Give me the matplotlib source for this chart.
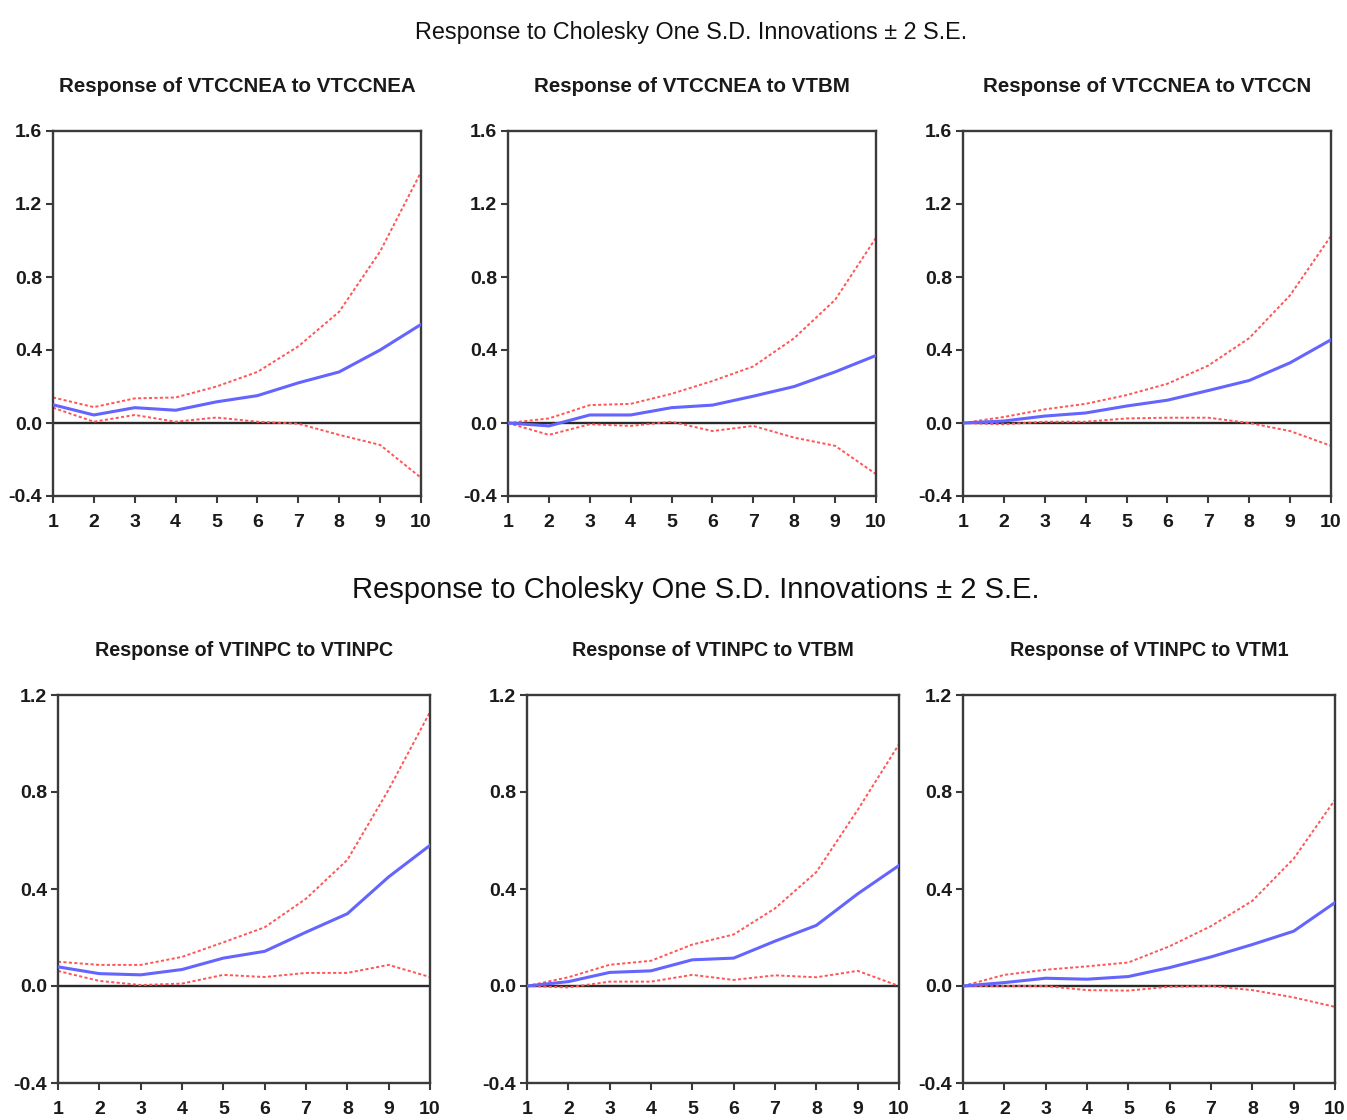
import matplotlib.pyplot as plt
from matplotlib import font_manager

steps = list(range(1, 11))

# Response of VTCCNEA (top block)
vtccnea_vtccnea = [0.10, 0.044, 0.084, 0.07, 0.116, 0.15, 0.22, 0.28, 0.40, 0.54]
vtccnea_vtccnea_hi = [0.14, 0.087, 0.135, 0.14, 0.20, 0.28, 0.42, 0.61, 0.94, 1.375]
vtccnea_vtccnea_lo = [0.084, 0.007, 0.044, 0.007, 0.03, 0.007, -0.004, -0.065, -0.12, -0.30]

vtccnea_vtbm = [0.0, -0.016, 0.044, 0.044, 0.084, 0.098, 0.147, 0.20, 0.28, 0.37]
vtccnea_vtbm_hi = [0.0, 0.025, 0.098, 0.105, 0.16, 0.23, 0.31, 0.465, 0.675, 1.015]
vtccnea_vtbm_lo = [0.0, -0.065, -0.007, -0.016, 0.007, -0.044, -0.016, -0.08, -0.125, -0.28]

vtccnea_vtccn = [0.0, 0.011, 0.038, 0.055, 0.093, 0.125, 0.178, 0.233, 0.33, 0.456]
vtccnea_vtccn_hi = [0.0, 0.033, 0.075, 0.105, 0.153, 0.215, 0.315, 0.465, 0.70, 1.025]
vtccnea_vtccn_lo = [0.0, -0.007, 0.007, 0.007, 0.025, 0.029, 0.029, 0.0, -0.044, -0.125]

# Response of VTINPC (bottom block)
vtinpc_vtinpc = [0.079, 0.051, 0.046, 0.068, 0.115, 0.143, 0.222, 0.298, 0.45, 0.58]
vtinpc_vtinpc_hi = [0.10, 0.087, 0.087, 0.12, 0.18, 0.242, 0.36, 0.52, 0.81, 1.13]
vtinpc_vtinpc_lo = [0.062, 0.021, 0.004, 0.01, 0.046, 0.037, 0.054, 0.054, 0.087, 0.037]

vtinpc_vtbm = [0.0, 0.018, 0.056, 0.0625, 0.108, 0.115, 0.185, 0.25, 0.38, 0.497]
vtinpc_vtbm_hi = [0.0, 0.036, 0.0875, 0.104, 0.171, 0.2125, 0.32, 0.47, 0.726, 0.997]
vtinpc_vtbm_lo = [0.0, -0.006, 0.018, 0.018, 0.046, 0.025, 0.044, 0.036, 0.0625, 0.0]

vtinpc_vtm1 = [0.0, 0.014, 0.032, 0.028, 0.039, 0.076, 0.12, 0.171, 0.226, 0.344]
vtinpc_vtm1_hi = [0.0, 0.046, 0.067, 0.081, 0.097, 0.164, 0.247, 0.351, 0.525, 0.768]
vtinpc_vtm1_lo = [0.0, 0.0, 0.0, -0.017, -0.019, -0.003, 0.0, -0.017, -0.047, -0.086]

top_titles = ["Response of VTCCNEA to VTCCNEA", "Response of VTCCNEA to VTBM",
              "Response of VTCCNEA to VTCCN"]
bottom_titles = ["Response of VTINPC to VTINPC", "Response of VTINPC to VTBM",
                 "Response of VTINPC to VTM1"]
top_yticks = [-0.4, 0.0, 0.4, 0.8, 1.2, 1.6]
bottom_yticks = [-0.4, 0.0, 0.4, 0.8, 1.2]
main_title = "Response to Cholesky One S.D. Innovations \u00b1 2 S.E."

installed = {f.name for f in font_manager.fontManager.ttflist}
narrow = [f for f in ["Liberation Sans Narrow", "DejaVu Sans Condensed"] if f in installed]
narrow = narrow + ["Liberation Sans", "DejaVu Sans"]

W, H = 1347, 1120
fig = plt.figure(figsize=(W / 100, H / 100), dpi=100)


def panel(px_left, px_top, px_w, px_h, resp, hi, lo, title, yticks, title_size):
    ax = fig.add_axes([px_left / W, 1 - (px_top + px_h) / H, px_w / W, px_h / H])
    ax.axhline(0, color="#2a2a2a", lw=1.7, zorder=1)
    ax.plot(steps, hi, color="#ff5555", lw=1.4, ls=(0, (1.6, 1.2)), zorder=2)
    ax.plot(steps, lo, color="#ff5555", lw=1.4, ls=(0, (1.6, 1.2)), zorder=2)
    ax.plot(steps, resp, color="#6464ff", lw=2.2, zorder=3)
    ax.set_xlim(1, 10)
    ax.set_ylim(yticks[0], yticks[-1])
    ax.set_xticks(steps)
    ax.set_yticks(yticks)
    ax.set_yticklabels([f"{v:.1f}" for v in yticks])
    for s in ax.spines.values():
        s.set_color("#3a3a3a")
        s.set_linewidth(1.7)
    ax.tick_params(direction="out", length=5, width=1.5, color="#3a3a3a")
    ax.tick_params(axis="x", pad=8)
    ax.tick_params(axis="y", pad=3)
    for lab in ax.get_xticklabels() + ax.get_yticklabels():
        lab.set_family(narrow)
        lab.set_fontweight("bold")
        lab.set_fontsize(14)
        lab.set_color("#1a1a1a")
    fig.text((px_left + px_w / 2) / W, 1 - (px_top - 44) / H, title,
             ha="center", va="center", family=narrow, fontweight="bold",
             fontsize=title_size, color="#1a1a1a")
    return ax


top_data = [(vtccnea_vtccnea, vtccnea_vtccnea_hi, vtccnea_vtccnea_lo),
            (vtccnea_vtbm, vtccnea_vtbm_hi, vtccnea_vtbm_lo),
            (vtccnea_vtccn, vtccnea_vtccn_hi, vtccnea_vtccn_lo)]
bottom_data = [(vtinpc_vtinpc, vtinpc_vtinpc_hi, vtinpc_vtinpc_lo),
               (vtinpc_vtbm, vtinpc_vtbm_hi, vtinpc_vtbm_lo),
               (vtinpc_vtm1, vtinpc_vtm1_hi, vtinpc_vtm1_lo)]

for left, (r, h, l), t in zip([53, 508, 963], top_data, top_titles):
    panel(left, 131, 368, 365, r, h, l, t, top_yticks, 14.8)

for left, (r, h, l), t in zip([58, 527, 963], bottom_data, bottom_titles):
    panel(left, 695, 372, 388, r, h, l, t, bottom_yticks, 14.2)

fig.text(691 / W, 1 - 32 / H, main_title, ha="center", va="center",
         family=narrow, fontsize=16.8, color="#111111")
fig.text(696 / W, 1 - 590 / H, main_title, ha="center", va="center",
         family=["Liberation Sans", "DejaVu Sans"], fontsize=21, color="#111111")

fig.savefig("out.png", dpi=100, facecolor="white")
